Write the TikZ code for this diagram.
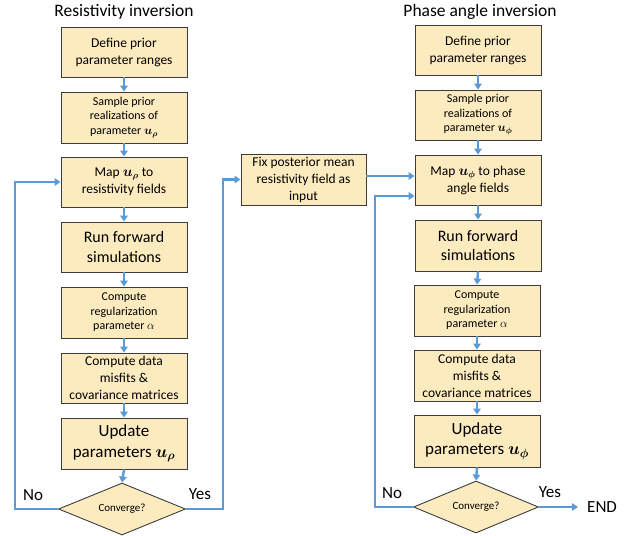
\documentclass[tikz,border=0pt]{standalone}
\usepackage{amsmath,bm}
\usepackage{fontspec}
\setmainfont{Carlito}
\usetikzlibrary{arrows.meta,shapes.geometric}
\definecolor{boxfill}{RGB}{253,235,192}
\definecolor{flow}{RGB}{91,155,213}
\definecolor{edgec}{RGB}{60,60,60}
\tikzset{
  box/.style={draw=edgec, line width=0.9pt, fill=boxfill, minimum width=126pt,
    minimum height=50pt, inner sep=1pt, align=center},
  fsmall/.style={font=\fontsize{12}{14.5}\selectfont},
  fmid/.style={font=\fontsize{13.5}{17}\selectfont},
  fbig/.style={font=\fontsize{16}{19.5}\selectfont},
  fhuge/.style={font=\fontsize{17}{20.5}\selectfont},
  ttl/.style={font=\fontsize{17.5}{20}\selectfont},
  lbl/.style={font=\fontsize{17}{19}\selectfont},
  flowline/.style={draw=flow, line width=2.4pt, -{Triangle[length=6pt,width=7.5pt]}},
  dec/.style={diamond, draw=edgec, fill=boxfill, line width=0.9pt, minimum width=127pt,
    minimum height=52pt, inner sep=0pt, aspect=2.4, font=\fontsize{11}{13}\selectfont},
}
\begin{document}
\begin{tikzpicture}[x=1pt,y=-1pt]
\useasboundingbox (0,0) rectangle (628,535);
% titles
\node[ttl] (t1) at (124,12) {Resistivity inversion};
\node[ttl] (t2) at (480,12) {Phase angle inversion};
% left column
\node[box,fmid] (L1) at (124,52) {Define prior\\parameter ranges};
\node[box,fsmall,minimum height=51pt] (L2) at (124,117.5) {Sample prior\\realizations of\\parameter $\bm{u}_{\bm{\rho}}$};
\node[box,fmid] (L3) at (124,182) {Map $\bm{u}_{\bm{\rho}}$ to\\resistivity fields};
\node[box,fbig] (L4) at (124,247) {Run forward\\simulations};
\node[box,fsmall,minimum height=51pt] (L5) at (124,312.5) {Compute\\regularization\\parameter $\alpha$};
\node[box,fmid] (L6) at (124,378) {Compute data\\misfits \&\\covariance matrices};
\node[box,fhuge,minimum height=51pt] (L7) at (124,443.5) {Update\\parameters $\bm{u}_{\bm{\rho}}$};
\node[dec] (L8) at (122,509) {Converge?};
% middle
\node[box,fmid,minimum width=125pt,minimum height=51pt] (F) at (303.5,179.5) {Fix posterior mean\\resistivity field as\\input};
% right column
\node[box,fmid] (R1) at (478,50) {Define prior\\parameter ranges};
\node[box,fsmall] (R2) at (478,115) {Sample prior\\realizations of\\parameter $\bm{u}_{\bm{\phi}}$};
\node[box,fmid] (R3) at (478,180) {Map $\bm{u}_{\bm{\phi}}$ to phase\\angle fields};
\node[box,fbig,minimum height=51pt] (R4) at (478,245.5) {Run forward\\simulations};
\node[box,fsmall,minimum height=51pt] (R5) at (477,310.5) {Compute\\regularization\\parameter $\alpha$};
\node[box,fmid,minimum height=51pt] (R6) at (477,375.5) {Compute data\\misfits \&\\covariance matrices};
\node[box,fhuge,minimum height=52pt] (R7) at (477,441) {Update\\parameters $\bm{u}_{\bm{\phi}}$};
\node[dec,minimum width=125pt] (R8) at (476,507) {Converge?};
% labels
\node[lbl] (noL) at (33,495) {No};
\node[lbl] (yesL) at (200,494) {Yes};
\node[lbl] (noR) at (392,493) {No};
\node[lbl] (yesR) at (550,492) {Yes};
\node[lbl,anchor=west,inner sep=1pt] (endR) at (586,507) {END};
% vertical arrows
\foreach \a/\b in {L1/L2,L2/L3,L3/L4,L4/L5,L5/L6,L6/L7,L7/L8,R1/R2,R2/R3,R3/R4,R4/R5,R5/R6,R6/R7,R7/R8}
  \draw[flowline] (\a.south) -- (\b.north);
% loops
\coordinate (cL) at (15,509);
\draw[flowline] (L8.west) -- (cL) |- (L3.west);
\coordinate (cY) at (223,509);
\draw[flowline] (L8.east) -- (cY) |- (F.west);
\draw[flowline] ([yshift=3.5pt]F.east) -- ([yshift=4pt]R3.west);
\coordinate (cR) at (375,507);
\draw[flowline] (R8.west) -- (cR) |- ([yshift=-16pt]R3.west);
\draw[flowline] (R8.east) -- ([xshift=-8pt]endR.west);
\end{tikzpicture}
\end{document}
